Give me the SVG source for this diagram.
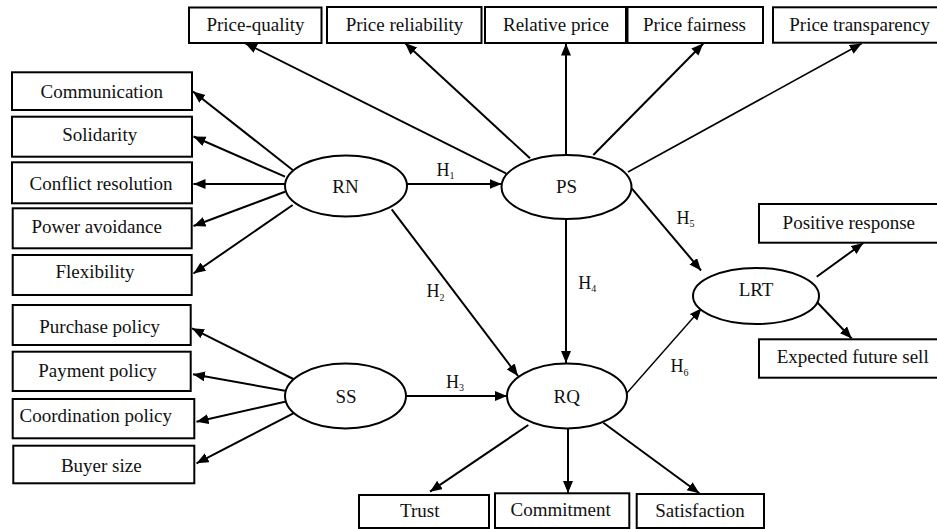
<svg xmlns="http://www.w3.org/2000/svg" width="937" height="529" viewBox="0 0 937 529">
<style>
.box{fill:#fff;stroke:#000;stroke-width:2}
.ell{fill:#fff;stroke:#000;stroke-width:2}
.t{font-family:"Liberation Serif","Times New Roman",serif;font-size:19px;fill:#111;text-anchor:middle}
.h{font-family:"Liberation Serif","Times New Roman",serif;font-size:18px;fill:#111}
.sub{font-size:10px}
.c line{stroke:#000;stroke-width:2;marker-end:url(#ah)}
</style>
<defs>
<marker id="ah" markerUnits="userSpaceOnUse" markerWidth="13" markerHeight="11" refX="12" refY="5" orient="auto">
<path d="M0,0 L12,5 L0,10 z" fill="#000"/>
</marker>
</defs>
<rect width="937" height="529" fill="#fff"/>
<g class="c" id="connectors">
<line x1="292.7" y1="170" x2="193" y2="91.5"/>
<line x1="285" y1="176.7" x2="193.5" y2="136.5"/>
<line x1="285" y1="184" x2="193.5" y2="184"/>
<line x1="285" y1="191.7" x2="193.5" y2="226"/>
<line x1="292.7" y1="205" x2="193.5" y2="273.5"/>
<line x1="406.7" y1="184" x2="501.5" y2="184"/>
<line x1="391.7" y1="209.3" x2="518" y2="376"/>
<line x1="506" y1="173.3" x2="245" y2="43"/>
<line x1="530" y1="158.3" x2="405" y2="43"/>
<line x1="566" y1="155" x2="566" y2="43.5"/>
<line x1="593.3" y1="155" x2="703.3" y2="43.5"/>
<line x1="628" y1="172" x2="861.7" y2="43.5" style="stroke-width:1.6"/>
<line x1="566" y1="219" x2="566" y2="363"/>
<line x1="631.7" y1="188.3" x2="701" y2="270.5"/>
<line x1="626.7" y1="393.3" x2="701.5" y2="308.3" style="stroke-width:1.4"/>
<line x1="293.3" y1="379" x2="192" y2="328.3"/>
<line x1="285" y1="390.7" x2="193" y2="374.3"/>
<line x1="285" y1="401.7" x2="196.5" y2="421.7"/>
<line x1="293.3" y1="413.3" x2="196.5" y2="463.3"/>
<line x1="406" y1="396" x2="507" y2="396"/>
<line x1="528.3" y1="425" x2="430" y2="491.7"/>
<line x1="568" y1="428.5" x2="568" y2="493"/>
<line x1="603.3" y1="422.7" x2="699.3" y2="493.3"/>
<line x1="816.7" y1="276.7" x2="863.3" y2="243"/>
<line x1="816.7" y1="301.7" x2="851.7" y2="338.5"/>
</g>
<g id="labels">
<text class="h" x="436.5" y="176">H<tspan class="sub" dy="3">1</tspan></text>
<text class="h" x="426.5" y="296.7">H<tspan class="sub" dy="4">2</tspan></text>
<text class="h" x="446" y="388.3">H<tspan class="sub" dy="3">3</tspan></text>
<text class="h" x="578.3" y="289.3">H<tspan class="sub" dy="3">4</tspan></text>
<text class="h" x="676.5" y="224">H<tspan class="sub" dy="3">5</tspan></text>
<text class="h" x="670.5" y="371.7">H<tspan class="sub" dy="4">6</tspan></text>
</g>
<g id="RN"><ellipse class="ell" cx="346" cy="186" rx="61" ry="30.5"/><text class="t" x="345.5" y="192.7">RN</text></g>
<g id="PS"><ellipse class="ell" cx="566.5" cy="187" rx="65" ry="32"/><text class="t" x="566.5" y="192.7">PS</text></g>
<g id="SS"><ellipse class="ell" cx="345.5" cy="396" rx="60.5" ry="32.5"/><text class="t" x="346" y="402.7">SS</text></g>
<g id="RQ"><ellipse class="ell" cx="567" cy="396" rx="60" ry="32.5"/><text class="t" x="566.7" y="402.7">RQ</text></g>
<g id="LRT"><ellipse class="ell" cx="756" cy="296" rx="63" ry="28"/><text class="t" x="756" y="296">LRT</text></g>
<g id="price-quality"><rect class="box" x="189" y="7.5" width="132.5" height="35.5"/><text class="t" x="255.5" y="31">Price-quality</text></g>
<g id="price-reliability"><rect class="box" x="327" y="7" width="154.5" height="36"/><text class="t" x="404.5" y="31">Price reliability</text></g>
<g id="relative-price"><rect class="box" x="485" y="7" width="141" height="36"/><text class="t" x="556" y="31">Relative price</text></g>
<g id="price-fairness"><rect class="box" x="627.5" y="7" width="135.5" height="36"/><text class="t" x="694.5" y="31">Price fairness</text></g>
<g id="price-transparency"><rect class="box" x="773" y="7.3" width="172" height="35.4"/><text class="t" x="859.7" y="31">Price transparency</text></g>
<g id="communication"><rect class="box" x="12" y="72.3" width="180" height="37.7"/><text class="t" x="101.7" y="98.3">Communication</text></g>
<g id="solidarity"><rect class="box" x="12" y="116.7" width="180" height="40"/><text class="t" x="99.7" y="141">Solidarity</text></g>
<g id="conflict-resolution"><rect class="box" x="12" y="162.3" width="180" height="41"/><text class="t" x="101" y="190">Conflict resolution</text></g>
<g id="power-avoidance"><rect class="box" x="12.7" y="208.3" width="179" height="40"/><text class="t" x="96.7" y="233.3">Power avoidance</text></g>
<g id="flexibility"><rect class="box" x="12.7" y="255" width="179" height="40"/><text class="t" x="95" y="278.3">Flexibility</text></g>
<g id="purchase-policy"><rect class="box" x="12.7" y="305" width="178" height="40"/><text class="t" x="99.7" y="333">Purchase policy</text></g>
<g id="payment-policy"><rect class="box" x="12.7" y="351.7" width="178" height="39.3"/><text class="t" x="97.5" y="376.7">Payment policy</text></g>
<g id="coordination-policy"><rect class="box" x="12.7" y="399" width="181.6" height="39.3"/><text class="t" x="95.8" y="421.7">Coordination policy</text></g>
<g id="buyer-size"><rect class="box" x="13.3" y="445.7" width="181" height="37.6"/><text class="t" x="101.3" y="471.7">Buyer size</text></g>
<g id="trust"><rect class="box" x="359" y="495" width="130" height="33"/><text class="t" x="419.7" y="517.3">Trust</text></g>
<g id="commitment"><rect class="box" x="495" y="493.3" width="134.3" height="34.7"/><text class="t" x="560.7" y="516">Commitment</text></g>
<g id="satisfaction"><rect class="box" x="636.7" y="494" width="127.3" height="34"/><text class="t" x="700" y="517.3">Satisfaction</text></g>
<g id="positive-response"><rect class="box" x="759" y="204" width="186" height="38.7"/><text class="t" x="848.8" y="229.3">Positive response</text></g>
<g id="expected-future-sell"><rect class="box" x="759" y="339.3" width="186" height="38.4"/><text class="t" x="852.7" y="362.7">Expected future sell</text></g>
</svg>
